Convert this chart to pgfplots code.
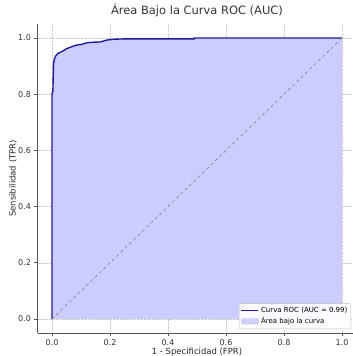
\documentclass[border=0pt]{standalone}
\usepackage{pgfplots}
\pgfplotsset{compat=1.18}
\usepackage{fontspec}
\setmainfont{DejaVu Sans}
\definecolor{roc}{HTML}{1E1E9A}
\definecolor{fillc}{HTML}{CCCCFF}
\definecolor{spine}{HTML}{555555}
\begin{document}
\begin{tikzpicture}
\begin{axis}[
  scale only axis,
  width=319bp, height=309bp,
  xmin=-0.05, xmax=1.05, ymin=-0.05, ymax=1.05,
  axis x line*=bottom, axis y line*=left,
  axis line style={spine, line width=0.8pt},
  xtick={0,0.2,0.4,0.6,0.8,1.0},
  ytick={0,0.2,0.4,0.6,0.8,1.0},
  xticklabels={0.0,0.2,0.4,0.6,0.8,1.0},
  yticklabels={0.0,0.2,0.4,0.6,0.8,1.0},
  tick align=outside, tick style={spine, line width=0.6pt},
  major tick length=3.5pt,
  /pgf/number format/assume math mode=true,
  ticklabel style={font=\fontsize{8}{9}\selectfont, text=black!80},
  xticklabel style={inner sep=0pt, yshift=-3pt},
  yticklabel style={inner sep=0pt, xshift=-3pt},
  grid=major,
  grid style={densely dotted, black!20, line width=0.4pt},
  title={Área Bajo la Curva ROC (AUC)},
  title style={font=\fontsize{11.5}{13}\selectfont, text=black!80,
    at={(rel axis cs:0.5,1)}, anchor=base, yshift=4bp},
  xlabel={1 - Specificidad (FPR)},
  ylabel={Sensibilidad (TPR)},
  xlabel style={at={(rel axis cs:0.5,0)}, anchor=base, yshift=-21.5bp, inner sep=0pt},
  ylabel style={at={(rel axis cs:0,0.5)}, anchor=center, yshift=24.5bp, inner sep=0pt},
  label style={font=\fontsize{8.5}{10}\selectfont, text=black!85},
  legend style={at={(rel axis cs:1,0)}, anchor=south east, xshift=-5.5bp, yshift=4bp,
    font=\fontsize{7}{8}\selectfont, draw=black!25, fill=white, fill opacity=0.9, text opacity=1,
    inner sep=1.5pt, row sep=-0.5pt, rounded corners=1pt},
  legend cell align=left,
  clip=false,
]
\addplot[draw=none, fill=fillc, forget plot] coordinates {
(0,0) (0,0.80) (0.003,0.81) (0.005,0.90) (0.007,0.92) (0.012,0.935) (0.02,0.945)
(0.03,0.95) (0.04,0.955) (0.05,0.962) (0.06,0.966) (0.07,0.97) (0.085,0.975)
(0.10,0.977) (0.12,0.983) (0.14,0.985) (0.166,0.986) (0.18,0.99) (0.19,0.993)
(0.217,0.996) (0.25,0.997) (0.49,0.997) (0.49,1.0) (1,1) (1,0) (0,0)};
\addplot[roc, line width=1.4pt] coordinates {
(0,0) (0,0.80) (0.003,0.81) (0.005,0.90) (0.007,0.92) (0.012,0.935) (0.02,0.945)
(0.03,0.95) (0.04,0.955) (0.05,0.962) (0.06,0.966) (0.07,0.97) (0.085,0.975)
(0.10,0.977) (0.12,0.983) (0.14,0.985) (0.166,0.986) (0.18,0.99) (0.19,0.993)
(0.217,0.996) (0.25,0.997) (0.49,0.997) (0.49,1.0) (1,1)};
\addlegendentry{Curva ROC (AUC = 0.99)}
\addplot[area legend, draw=fillc, fill=fillc] coordinates {(0,0)};
\addlegendentry{Área bajo la curva}
\addplot[gray, dashed, line width=0.6pt, forget plot] coordinates {(0,0) (1,1)};
\coordinate (bl) at (rel axis cs:0,0);
\coordinate (tr) at (rel axis cs:1,1);
\end{axis}
\pgfresetboundingbox
\path[use as bounding box] ([xshift=-37.5bp,yshift=-23bp]bl) rectangle ([xshift=-3.5bp,yshift=24bp]tr);
\end{tikzpicture}
\end{document}
